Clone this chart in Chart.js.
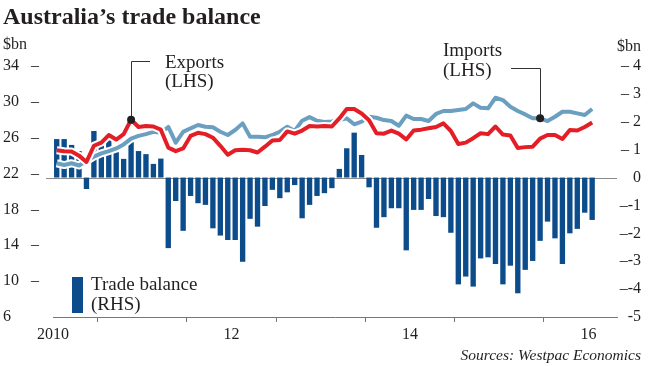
<!DOCTYPE html>
<html lang="en">
<head>
<meta charset="utf-8">
<title>Australia's trade balance</title>
<script src="https://cdn.jsdelivr.net/npm/chart.js@4.4.1/dist/chart.umd.min.js"></script>
<style>
    html, body { margin: 0; padding: 0; background: #fff; }
    canvas { display: block; }
</style>
</head>
<body>
<canvas id="graficoBalanza" width="649" height="366"></canvas>
<script>
// ========== DATOS (mensuales, enero 2010 a enero 2016) ==========
const ANIO_INICIO = 2010;
const ANIO_FIN = 2016.32;

// Exportaciones, $bn (eje izquierdo)
const exportaciones = [
    24.6, 24.5, 24.45, 24.0, 23.3, 25.1, 25.45, 26.3, 25.8, 26.4, 28.0, 27.2,
    27.3, 27.25, 26.9, 24.9, 24.5, 24.8, 26.2, 26.55, 26.4, 26.0, 25.1, 24.1,
    24.6, 24.65, 24.6, 24.35, 25.0, 25.7, 25.75, 26.7, 26.45, 26.8, 27.3, 27.25,
    27.3, 27.25, 28.15, 29.2, 29.2, 28.7, 27.95, 26.5, 26.45, 26.8, 26.45, 25.8,
    26.8, 26.9, 27.05, 27.2, 27.6, 26.75, 25.3, 25.45, 25.95, 26.5, 26.4, 27.25,
    26.35, 26.25, 24.85, 24.95, 25.0, 25.9, 26.3, 26.3, 25.85, 26.85, 26.8, 27.2,
    27.7
];

// Importaciones, $bn (eje izquierdo)
const importaciones = [
    23.15, 22.95, 23.15, 22.9, 23.4, 23.9, 24.25, 24.5, 24.8, 25.25, 25.9, 26.2,
    26.4, 26.65, 26.55, 27.2, 25.45, 26.65, 27.05, 27.42, 27.23, 27.16, 26.67, 26.3,
    26.86, 27.6, 26.11, 26.11, 26.04, 26.3, 26.67, 27.23, 26.75, 27.9, 28.3, 27.9,
    27.75, 27.8, 27.97, 28.16, 27.5, 27.8, 28.34, 28.23, 27.97, 27.86, 27.34, 28.46,
    28.09, 28.09, 27.86, 28.65, 28.98, 28.98, 29.09, 29.2, 29.83, 29.35, 29.28, 30.46,
    30.2, 29.46, 28.98, 28.6, 28.16, 28.16, 27.86, 28.34, 28.9, 28.9, 28.72, 28.53,
    29.2
];

// Balanza comercial, $bn (eje derecho)
const balanza = [
    1.38, 1.38, 1.17, 0.95, -0.41, 1.67, 1.23, 1.41, 0.91, 0.67, 1.27, 0.95,
    0.84, 0.49, 0.68, -2.53, -0.84, -1.91, -0.66, -0.92, -0.98, -1.82, -2.08, -2.24,
    -2.24, -3.02, -1.48, -1.76, -1.02, -0.44, -0.74, -0.53, -0.27, -1.46, -0.98, -0.66,
    -0.56, -0.38, 0.31, 1.05, 1.61, 0.81, -0.35, -1.8, -1.42, -1.1, -1.1, -2.61,
    -1.16, -1.16, -0.77, -1.38, -1.42, -1.98, -3.83, -3.55, -3.91, -2.9, -2.86, -3.1,
    -3.83, -3.16, -4.15, -3.31, -2.99, -2.27, -1.58, -2.18, -3.1, -2.0, -1.84, -1.26,
    -1.52
];

// Etiquetas del eje X
const etiquetasAnio = { 2010: '2010', 2012: '12', 2014: '14', 2016: '16' };

// Meses señalados por las anotaciones
const MES_EXPORTS = 10;
const MES_IMPORTS = 65;

// ========== ESTILOS ==========
const ROJO = '#e31e26';
const AZUL_CLARO = '#6b9fc0';
const AZUL_OSCURO = '#0d4c8b';
const TEXTO = '#231f20';
const FUENTE = "'Liberation Serif', 'Times New Roman', serif";

Chart.defaults.font.family = FUENTE;
Chart.defaults.color = TEXTO;

function puntos(serie) {
    return serie.map((v, i) => ({ x: ANIO_INICIO + (i + 0.5) / 12, y: v }));
}

// ========== PLUGIN DE ANOTACIONES ==========
const anotaciones = {
    id: 'anotaciones',
    beforeDatasetsDraw(chart) {
        // Línea del cero (eje derecho)
        const ctx = chart.ctx;
        const y0 = Math.round(chart.scales.y2.getPixelForValue(0)) + 0.5;
        ctx.save();
        ctx.strokeStyle = '#8a8a8a';
        ctx.lineWidth = 1;
        ctx.beginPath();
        ctx.moveTo(chart.chartArea.left - 7, y0);
        ctx.lineTo(chart.chartArea.right, y0);
        ctx.stroke();
        ctx.restore();
    },
    afterDatasetsDraw(chart) {
        const ctx = chart.ctx;
        const pExp = chart.getDatasetMeta(0).data[MES_EXPORTS];
        const pImp = chart.getDatasetMeta(2).data[MES_IMPORTS];

        ctx.save();
        ctx.strokeStyle = '#333';
        ctx.lineWidth = 1;

        // Guía de Exports
        const xe = Math.round(pExp.x) + 0.5;
        ctx.beginPath();
        ctx.moveTo(xe, pExp.y);
        ctx.lineTo(xe, 61.5);
        ctx.lineTo(150, 61.5);
        ctx.stroke();

        // Guía de Imports
        const xi = Math.round(pImp.x) + 0.5;
        ctx.beginPath();
        ctx.moveTo(xi, pImp.y);
        ctx.lineTo(xi, 68.5);
        ctx.lineTo(511, 68.5);
        ctx.stroke();

        // Puntos
        ctx.fillStyle = TEXTO;
        [pExp, pImp].forEach(p => {
            ctx.beginPath();
            ctx.arc(p.x, p.y, 4, 0, Math.PI * 2);
            ctx.fill();
        });
        ctx.restore();
    },
    afterDraw(chart) {
        const ctx = chart.ctx;
        ctx.save();
        ctx.fillStyle = TEXTO;
        ctx.textBaseline = 'alphabetic';

        // Título
        ctx.font = `bold 24px ${FUENTE}`;
        ctx.textAlign = 'left';
        ctx.fillText('Australia\u2019s trade balance', 3, 24);

        // Unidades
        ctx.font = `16px ${FUENTE}`;
        ctx.fillText('$bn', 3, 49);
        ctx.textAlign = 'right';
        ctx.fillText('$bn', 641, 51);

        // Etiquetas de series
        ctx.textAlign = 'left';
        ctx.font = `19px ${FUENTE}`;
        ctx.fillText('Exports', 165, 68);
        ctx.fillText('(LHS)', 165, 87);
        ctx.fillText('Imports', 443, 56);
        ctx.fillText('(LHS)', 443, 76);

        // Leyenda de la balanza
        ctx.fillStyle = AZUL_OSCURO;
        ctx.fillRect(72, 277, 11, 36);
        ctx.fillStyle = TEXTO;
        ctx.fillText('Trade balance', 91, 290);
        ctx.fillText('(RHS)', 91, 310);

        // Fuente
        ctx.font = `italic 15.5px ${FUENTE}`;
        ctx.textAlign = 'right';
        ctx.fillText('Sources: Westpac Economics', 641, 360);
        ctx.restore();
    }
};

// ========== GRÁFICO ==========
const ctxBalanza = document.getElementById('graficoBalanza').getContext('2d');
const graficoBalanza = new Chart(ctxBalanza, {
    type: 'line',
    data: {
        datasets: [
            {
                label: 'Exports',
                data: puntos(exportaciones),
                yAxisID: 'y',
                borderColor: ROJO,
                borderWidth: 4,
                borderJoinStyle: 'round',
                pointRadius: 0,
                tension: 0,
                order: 1
            },
            {
                label: 'Exports (borde)',
                data: puntos(exportaciones),
                yAxisID: 'y',
                borderColor: '#ffffff',
                borderWidth: 8,
                borderJoinStyle: 'round',
                pointRadius: 0,
                tension: 0,
                order: 2
            },
            {
                label: 'Imports',
                data: puntos(importaciones),
                yAxisID: 'y',
                borderColor: AZUL_CLARO,
                borderWidth: 4,
                borderJoinStyle: 'round',
                pointRadius: 0,
                tension: 0,
                order: 3
            },
            {
                label: 'Imports (borde)',
                data: puntos(importaciones),
                yAxisID: 'y',
                borderColor: '#ffffff',
                borderWidth: 8,
                borderJoinStyle: 'round',
                pointRadius: 0,
                tension: 0,
                order: 4
            },
            {
                type: 'bar',
                label: 'Trade balance',
                data: puntos(balanza),
                yAxisID: 'y2',
                backgroundColor: AZUL_OSCURO,
                borderWidth: 0,
                barPercentage: 0.9,
                categoryPercentage: 0.8,
                order: 5
            }
        ]
    },
    options: {
        responsive: false,
        animation: false,
        devicePixelRatio: 1,
        layout: {
            padding: { top: 66, left: 3, right: 8, bottom: 0 }
        },
        plugins: {
            legend: { display: false },
            tooltip: { enabled: false }
        },
        scales: {
            x: {
                type: 'linear',
                min: ANIO_INICIO,
                max: ANIO_FIN,
                offset: false,
                afterFit: (s) => { s.height = 49; },
                grid: {
                    drawOnChartArea: false,
                    drawTicks: true,
                    tickLength: 5,
                    color: '#777'
                },
                border: { display: true, color: '#777', width: 1 },
                ticks: {
                    stepSize: 1,
                    includeBounds: false,
                    autoSkip: false,
                    maxRotation: 0,
                    padding: 3,
                    font: { size: 16 },
                    callback: (v) => etiquetasAnio[v] || ''
                }
            },
            y: {
                position: 'left',
                min: 6,
                max: 34,
                afterFit: (s) => { s.width = 50; },
                grid: { display: false },
                border: { display: false },
                ticks: {
                    stepSize: 4,
                    crossAlign: 'far',
                    padding: 0,
                    font: { size: 16 },
                    callback: (v) => v === 6 ? '6' : v + '\u2002 \u2013'
                }
            },
            y2: {
                position: 'right',
                min: -5,
                max: 4,
                afterFit: (s) => { s.width = 24; },
                grid: { display: false },
                border: { display: false },
                ticks: {
                    stepSize: 1,
                    crossAlign: 'far',
                    padding: 0,
                    font: { size: 16 },
                    callback: function(v) {
                        if (v === -5) return '-5';
                        if (v === 0) return '0';
                        return v > 0 ? '\u2013 ' + v : '\u2013' + v;
                    }
                }
            }
        }
    },
    plugins: [anotaciones]
});
</script>
</body>
</html>
